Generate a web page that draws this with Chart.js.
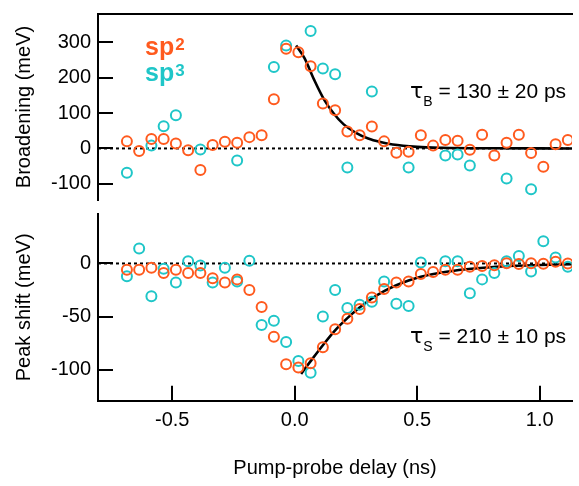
<!DOCTYPE html>
<html>
<head>
<meta charset="utf-8">
<script src="https://cdn.jsdelivr.net/npm/chart.js@4.4.1/dist/chart.umd.min.js"></script>
<style>
  html, body { margin: 0; padding: 0; background: #fff; }
  #wrap { position: relative; width: 579px; height: 486px; overflow: hidden; }
  #wrap canvas { position: absolute; left: 0; }
  #topChart { top: 0; }
  #bottomChart { top: 207px; }
</style>
</head>
<body>
<div id="wrap">
  <canvas id="topChart" width="579" height="207"></canvas>
  <canvas id="bottomChart" width="579" height="279"></canvas>
</div>
<script>
// pump-probe delays (ns), shared by both panels
const delays = [-0.685, -0.635, -0.585, -0.535, -0.485, -0.435, -0.385, -0.335, -0.285, -0.235,
  -0.185, -0.135, -0.085, -0.035, 0.015, 0.065, 0.115, 0.165, 0.215, 0.265,
  0.315, 0.365, 0.415, 0.465, 0.515, 0.565, 0.615, 0.665, 0.715, 0.765,
  0.815, 0.865, 0.915, 0.965, 1.015, 1.065, 1.115];

// broadening (meV)
const broadSp2 = [20, -7, 27, 27, 14, -5, -61, 10, 19, 16,
  32, 37, 139, 282, 272, 232, 127, 108, 48, 37,
  62, 20, -12, -9, 37, 8, 24, 22, -4, 39,
  -20, 16, 39, -13, -52, 12, 24];
const broadSp3 = [-69, null, 8, 63, 94, null, -3, null, null, -34,
  null, null, 230, 291, null, 332, 226, 210, -54, null,
  161, null, null, -54, null, null, -20, -17, -48, null,
  null, -85, null, -115, null, null, null];

// peak shift (meV)
const shiftSp2 = [-6, -6, -4, -9, -6, -9, -9, -14, -18, -15,
  -25, -41, -69, -95, -98, -94, -79, -62, -52, -43,
  -32, -24, -18, -17, -10, -8, -6, -6, -3, -2.5,
  -1.6, 0.3, -0.6, 0.3, -0.3, 1.6, 0];
const shiftSp3 = [-12, 14, -31, -5, -18, 2, -2, -18, -4, -17,
  2.5, -58, -54, -74, -92, -103, -50, -25, -42, -39,
  -36, -17, -38, -40, 1, null, 2, 2, -28, -15,
  -9, 2, 7, -7.5, 21, 5.6, -3];

// fit curves
const broadFitDelay = [0.006, 0.04, 0.08, 0.12, 0.16, 0.2, 0.25, 0.3, 0.35, 0.4, 0.5, 0.6, 0.8, 1.132];
const broadFitValue = [291, 255, 193, 138, 98, 68, 44, 28, 18, 11, 4.5, 2, 0.5, 0];
const shiftFitDelay = [0.026, 0.065, 0.115, 0.165, 0.215, 0.265, 0.315, 0.365, 0.415, 0.465, 0.515, 0.6, 0.7, 0.8, 0.9, 1.0, 1.132];
const shiftFitValue = [-104, -92, -77, -63, -51.5, -41.5, -33, -26, -20.5, -16, -12.5, -8.5, -5.5, -3.5, -2.2, -1.4, -0.8];

const delayTicks = [-0.5, 0, 0.5, 1.0];
const broadTicks = [-100, 0, 100, 200, 300];
const shiftTicks = [-100, -50, 0];

const X_MIN = -0.803;
const X_MAX = 1.132;

const ORANGE = '#ff5a1e';
const CYAN = '#1fc6c8';
const FONT = "'Liberation Sans', Arial, sans-serif";
const TAU_FONT = "'DejaVu Sans', sans-serif";

function toPoints(xs, ys) {
  return xs.map((x, i) => ({ x, y: ys[i] })).filter(p => p.y !== null);
}

function datasets(sp2, sp3, fitX, fitY) {
  const marker = (color, order) => ({
    showLine: false,
    pointStyle: 'circle',
    pointRadius: 5,
    pointBorderWidth: 2,
    pointBorderColor: color,
    pointBackgroundColor: 'rgba(0,0,0,0)',
    xAxisID: 'x',
    order
  });
  return [
    { label: 'sp2', data: toPoints(delays, sp2), ...marker(ORANGE, 0) },
    { label: 'sp3', data: toPoints(delays, sp3), ...marker(CYAN, 1) },
    {
      label: 'fit', data: toPoints(fitX, fitY), showLine: true, pointRadius: 0,
      borderColor: '#000', borderWidth: 2.6, cubicInterpolationMode: 'monotone',
      xAxisID: 'x', order: 2
    },
    {
      label: 'zero', data: [{ x: X_MIN, y: 0 }, { x: X_MAX, y: 0 }], showLine: true,
      pointRadius: 0, borderColor: '#000', borderWidth: 2, borderDash: [3, 3],
      xAxisID: 'x', order: 3
    }
  ];
}

const inwardGrid = { drawOnChartArea: false, drawTicks: true, tickLength: -15, color: '#000', lineWidth: 2 };
const axisBorder = { display: true, color: '#000', width: 2 };
const tickFont = { family: FONT, size: 20 };

function noPad(s) {
  s.paddingTop = 0; s.paddingBottom = 0; s.paddingLeft = 0; s.paddingRight = 0;
}

function yScale(min, max, ticks, title) {
  return {
    type: 'linear', position: 'left', min, max,
    afterBuildTicks: s => { s.ticks = ticks.map(v => ({ value: v })); },
    afterFit: s => { s.width = 98; noPad(s); },
    grid: inwardGrid,
    border: axisBorder,
    ticks: { color: '#000', font: tickFont, padding: 22, callback: v => String(v) },
    title: { display: true, text: title, color: '#000', font: { family: FONT, size: 20 }, padding: { top: 12, bottom: 0 } }
  };
}

// text notes drawn on the canvas
function notesPlugin(notes) {
  return {
    id: 'notes',
    afterDraw(chart) {
      const ctx = chart.ctx;
      ctx.save();
      ctx.textBaseline = 'alphabetic';
      ctx.textAlign = 'left';
      notes.forEach(note => {
        let x = note.x;
        note.runs.forEach(r => {
          ctx.font = r.font;
          ctx.fillStyle = r.color || '#000';
          ctx.fillText(r.text, x, note.y + (r.dy || 0));
          x += ctx.measureText(r.text).width + (r.gap || 0);
        });
      });
      ctx.restore();
    }
  };
}

function tauNote(x, y, sub, rest) {
  return { x, y, runs: [
    { text: 'τ', font: `22px ${TAU_FONT}` },
    { text: sub, font: `14px ${FONT}`, dy: 8 },
    { text: rest, font: `21px ${FONT}` }] };
}

const baseOptions = {
  responsive: false,
  animation: false,
  events: [],
  plugins: { legend: { display: false }, tooltip: { enabled: false } }
};

new Chart(document.getElementById('topChart'), {
  type: 'scatter',
  data: { datasets: datasets(broadSp2, broadSp3, broadFitDelay, broadFitValue) },
  options: {
    ...baseOptions,
    layout: { padding: { top: 14, bottom: 5.3, left: 0, right: 0 } },
    scales: {
      x: { type: 'linear', min: X_MIN, max: X_MAX, display: false },
      x2: {
        type: 'linear', position: 'top', min: X_MIN, max: X_MAX,
        grid: { display: false, drawTicks: false }, ticks: { display: false },
        border: axisBorder,
        afterFit: s => { s.height = 0; noPad(s); }
      },
      y: yScale(-145.7, 380, broadTicks, 'Broadening (meV)')
    }
  },
  plugins: [notesPlugin([
    { x: 145, y: 55, runs: [
      { text: 'sp', font: `bold 25px ${FONT}`, color: ORANGE, gap: 1 },
      { text: '2', font: `bold 17px ${FONT}`, color: ORANGE, dy: -5 }] },
    { x: 145, y: 81, runs: [
      { text: 'sp', font: `bold 25px ${FONT}`, color: CYAN, gap: 1 },
      { text: '3', font: `bold 17px ${FONT}`, color: CYAN, dy: -5 }] },
    tauNote(410, 98, 'B', ' = 130 ± 20 ps')
  ])]
});

new Chart(document.getElementById('bottomChart'), {
  type: 'scatter',
  data: { datasets: datasets(shiftSp2, shiftSp3, shiftFitDelay, shiftFitValue) },
  options: {
    ...baseOptions,
    layout: { padding: { top: 6, bottom: 0, left: 0, right: 0 } },
    scales: {
      x: {
        type: 'linear', position: 'bottom', min: X_MIN, max: X_MAX,
        afterBuildTicks: s => { s.ticks = delayTicks.map(v => ({ value: v })); },
        afterFit: s => { s.height = 85.3; noPad(s); },
        grid: inwardGrid,
        border: axisBorder,
        ticks: { color: '#000', font: tickFont, padding: 23, autoSkip: false, maxRotation: 0, callback: v => v.toFixed(1) },
        title: { display: true, text: 'Pump-probe delay (ns)', color: '#000', font: { family: FONT, size: 20 }, padding: { top: 0, bottom: 6 } }
      },
      y: yScale(-129.3, 46.6, shiftTicks, 'Peak shift (meV)')
    }
  },
  plugins: [notesPlugin([
    tauNote(410, 136, 'S', ' = 210 ± 10 ps')
  ])]
});
</script>
</body>
</html>
